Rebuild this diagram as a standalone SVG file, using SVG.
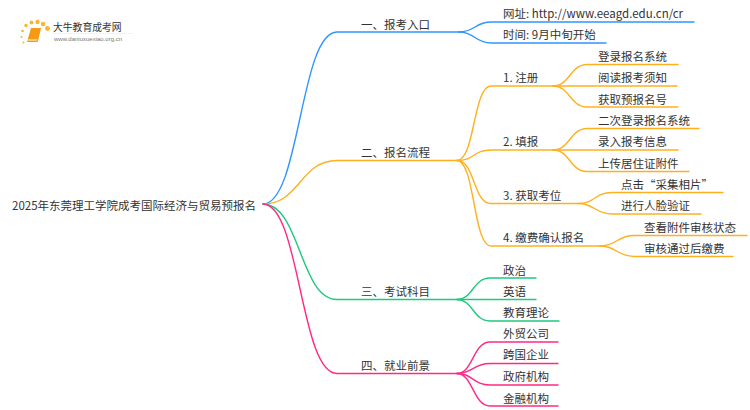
<svg xmlns="http://www.w3.org/2000/svg" width="750" height="410" viewBox="0 0 750 410">
<style>
text{font-family:"Noto Sans CJK SC","Noto Sans",sans-serif;font-size:11.5px;fill:#333}
.c{fill:none;stroke-width:1.4;stroke-linecap:round}
.b{stroke:#2f95ff}.o{stroke:#ffb01f}.g{stroke:#1fc97c}.p{stroke:#ff2a85}
</style>
<rect width="750" height="410" fill="#fff"/>
<g id="logo">
<g fill="#fbb62e">
<circle cx="22.500" cy="31" r="1.300"/><circle cx="26" cy="25.500" r="1.700"/><circle cx="31.500" cy="22.500" r="2"/><circle cx="37.500" cy="22" r="2.200"/><circle cx="43" cy="24" r="2.200"/><circle cx="47.500" cy="28.500" r="2.400"/><circle cx="21.500" cy="37" r="1"/><circle cx="23.500" cy="42.500" r="1"/>
</g>
<path d="M31 28H41L38 41Q37.700 42 36.500 42H27Z" fill="#f59a12"/>
<path d="M28 39.300h9.300l-.5 1.500h-9.200z" fill="#fddc9a"/>
<text x="53" y="31" style="font-size:9.800px">大牛教育成考网</text>
<text x="54" y="41" style="font-size:6px;fill:#777;font-family:'Liberation Sans',sans-serif">www.daniuxuexiao.org.cn</text>
<path d="M53 33.500H133" stroke="#eee" stroke-width=".7"/>
</g>
<g id="connectors">
<g>
<path class="c b" d="M263 204C300 204 300 32 337 32H459"/>
<path class="c b" d="M459 32C475 32 475 22 491 22H694"/>
<path class="c b" d="M459 32C475 32 475 43 491 43H606"/>
</g>
<g>
<path class="c o" d="M263 204C300 204 300 160.500 337 160.500H457"/>
<path class="c o" d="M457 160.500C475 160.500 473 86 491 86H553"/>
<path class="c o" d="M457 160.500C475 160.500 473 150 491 150H553"/>
<path class="c o" d="M457 160.500C475 160.500 473 203.500 491 203.500H578"/>
<path class="c o" d="M457 160.500C475 160.500 473 246 491 246H600"/>
<path class="c o" d="M553 86C570 86 570 64.500 587 64.500H678"/>
<path class="c o" d="M553 86H677"/>
<path class="c o" d="M553 86C570 86 570 107 587 107H678"/>
<path class="c o" d="M553 150C570 150 570 128.500 587 128.500H699"/>
<path class="c o" d="M553 150H678"/>
<path class="c o" d="M553 150C570 150 570 171.500 587 171.500H689"/>
<path class="c o" d="M578 203.500C595 203.500 595 192.500 612 192.500H723"/>
<path class="c o" d="M578 203.500C595 203.500 595 214 612 214H701"/>
<path class="c o" d="M600 246C617 246 617 235.500 634 235.500H747"/>
<path class="c o" d="M600 246C617 246 617 256.500 634 256.500H733"/>
</g>
<g>
<path class="c g" d="M263 204C300 204 300 299.500 337 299.500H457"/>
<path class="c g" d="M457 299.500C473 299.500 473 278 490 278H536"/>
<path class="c g" d="M457 299.500H536"/>
<path class="c g" d="M457 299.500C473 299.500 473 321 490 321H559"/>
</g>
<g>
<path class="c p" d="M263 204C300 204 300 373.500 337 373.500H457"/>
<path class="c p" d="M457 373.500C473 373.500 473 342 490 342H558"/>
<path class="c p" d="M457 373.500C473 373.500 473 363.500 490 363.500H558"/>
<path class="c p" d="M457 373.500C473 373.500 473 385 490 385H558"/>
<path class="c p" d="M457 373.500C473 373.500 473 406 490 406H558"/>
</g>
</g>
<g id="root"><text x="12" y="210">2025年东莞理工学院成考国际经济与贸易预报名</text></g>
<g id="n1"><text x="361" y="29">一、报考入口</text></g>
<g id="n1-1"><text x="503" y="18">网址: http://www.eeagd.edu.cn/cr</text></g>
<g id="n1-2"><text x="503" y="39">时间: 9月中旬开始</text></g>
<g id="n2"><text x="361" y="157">二、报名流程</text></g>
<g id="n2-1"><text x="503" y="82">1. 注册</text></g>
<g id="n2-1-1"><text x="598" y="61">登录报名系统</text></g>
<g id="n2-1-2"><text x="598" y="82">阅读报考须知</text></g>
<g id="n2-1-3"><text x="598" y="104">获取预报名号</text></g>
<g id="n2-2"><text x="503" y="146">2. 填报</text></g>
<g id="n2-2-1"><text x="598" y="125">二次登录报名系统</text></g>
<g id="n2-2-2"><text x="598" y="146">录入报考信息</text></g>
<g id="n2-2-3"><text x="598" y="168">上传居住证附件</text></g>
<g id="n2-3"><text x="503" y="200">3. 获取考位</text></g>
<g id="n2-3-1"><text x="621" y="189">点击“采集相片”</text></g>
<g id="n2-3-2"><text x="621" y="210">进行人脸验证</text></g>
<g id="n2-4"><text x="503" y="242">4. 缴费确认报名</text></g>
<g id="n2-4-1"><text x="644" y="232">查看附件审核状态</text></g>
<g id="n2-4-2"><text x="644" y="253">审核通过后缴费</text></g>
<g id="n3"><text x="361" y="296">三、考试科目</text></g>
<g id="n3-1"><text x="503" y="275">政治</text></g>
<g id="n3-2"><text x="503" y="296">英语</text></g>
<g id="n3-3"><text x="503" y="317">教育理论</text></g>
<g id="n4"><text x="361" y="370">四、就业前景</text></g>
<g id="n4-1"><text x="503" y="338">外贸公司</text></g>
<g id="n4-2"><text x="503" y="359">跨国企业</text></g>
<g id="n4-3"><text x="503" y="381">政府机构</text></g>
<g id="n4-4"><text x="503" y="403">金融机构</text></g>
</svg>
